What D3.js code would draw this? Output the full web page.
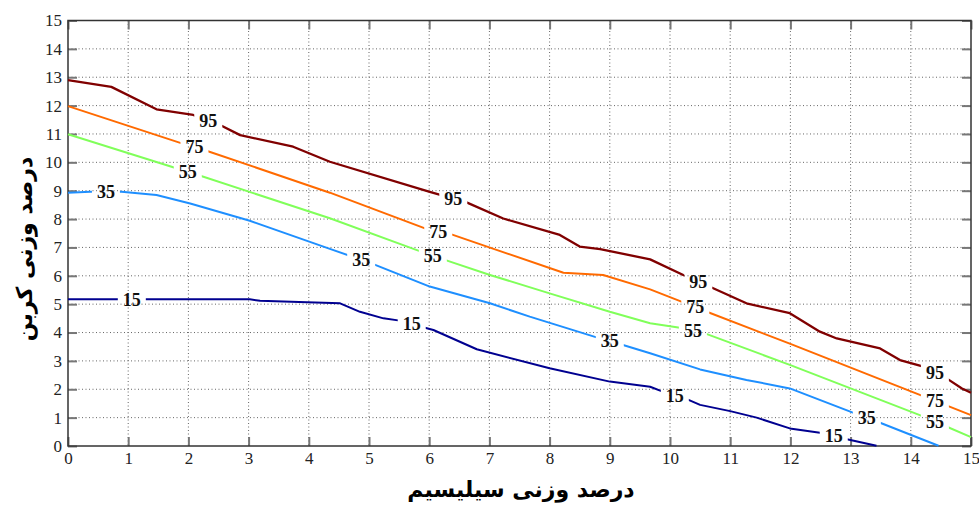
<!DOCTYPE html>
<html><head><meta charset="utf-8">
<script src="https://cdn.jsdelivr.net/npm/d3@7"></script>
<style>body{margin:0;background:#fff;}svg{display:block;}</style>
</head><body>
<svg id="chart" width="979" height="505"></svg>
<script>
// ---- data ----
const xTicks = [0,1,2,3,4,5,6,7,8,9,10,11,12,13,14,15];
const yTicks = [0,1,2,3,4,5,6,7,8,9,10,11,12,13,14,15];
const levels = [95, 75, 55, 35, 15];
const colors = ["#800000", "#ff6a00", "#80ff5a", "#1e8fff", "#000090"];
const line95 = [[0,12.9],[0.72,12.66],[1.47,11.87],[2.08,11.67],[2.55,11.29],[2.86,10.96],[3.74,10.55],[4.35,10.02],[6.01,8.96],[6.62,8.59],[7.23,8.02],[8.17,7.44],[8.5,7.03],[8.84,6.94],[9.67,6.58],[10.22,6.03],[10.69,5.59],[11.27,5.03],[11.99,4.68],[12.49,4.03],[12.77,3.79],[13.49,3.44],[13.82,3.03],[14.21,2.8],[14.62,2.35],[14.85,2.03],[15,1.88]];
const line75 = [[0,11.98],[1.89,10.67],[2.3,10.41],[4.35,8.93],[5.93,7.67],[6.37,7.46],[7.07,6.95],[8.23,6.11],[8.89,6.03],[9.67,5.52],[10.19,5.09],[10.58,4.76],[12,3.6],[14.15,1.8],[14.57,1.45],[15,1.09]];
const line55 = [[0,10.99],[1.8,9.79],[2.25,9.49],[4.35,8.03],[5.75,6.94],[6.26,6.56],[7.01,6.03],[8.0,5.38],[9.0,4.73],[9.67,4.33],[10.22,4.15],[10.58,3.97],[11.99,2.86],[14.15,1.09],[14.6,0.68],[15,0.31]];
const line35 = [[0,8.93],[0.37,8.96],[0.89,8.96],[1.47,8.85],[2.03,8.55],[3.02,7.94],[4.35,6.95],[5.04,6.44],[6.01,5.62],[7.01,5.03],[7.67,4.56],[8.78,3.83],[9.22,3.56],[9.67,3.27],[10.5,2.7],[11.27,2.33],[11.99,2.03],[13.07,1.15],[13.49,0.82],[14.46,0.01]];
const line15 = [[0,5.17],[1.36,5.17],[3.02,5.17],[3.19,5.12],[3.58,5.09],[3.97,5.07],[4.52,5.03],[4.85,4.73],[5.24,4.5],[5.51,4.42],[5.93,4.17],[6.07,4.09],[6.79,3.41],[8.0,2.74],[9.0,2.27],[9.67,2.09],[9.89,1.91],[10.25,1.68],[10.5,1.45],[11.0,1.23],[11.44,1.0],[11.99,0.62],[12.55,0.45],[12.94,0.24],[13.43,0.01]];
const lines = [line95, line75, line55, line35, line15];
// x positions (data units) of the inline level labels on each contour
const labelX95 = [2.33, 6.4, 10.47, 14.4];
const labelX75 = [2.1, 6.15, 10.42, 14.4];
const labelX55 = [1.99, 6.06, 10.38, 14.4];
const labelX35 = [0.63, 4.87, 9.0, 13.27];
const labelX15 = [1.06, 5.71, 10.08, 12.72];
const labelXs = [labelX95, labelX75, labelX55, labelX35, labelX15];
const xTitle = "درصد وزنی سیلیسیم";
const yTitle = "درصد وزنی کربن";

// ---- layout ----
const svg = d3.select("#chart");
const L = 68, R = 971, T = 20.5, B = 446;
const x = d3.scaleLinear().domain([0,15]).range([L,R]);
const y = d3.scaleLinear().domain([0,15]).range([B,T]);

// grid
const grid = svg.append("g");
grid.selectAll(".gx").data(xTicks.slice(1,-1)).enter().append("line")
  .attr("x1", d=>x(d)).attr("x2", d=>x(d)).attr("y1", T).attr("y2", B)
  .attr("stroke", "#666").attr("stroke-width", 1).attr("stroke-dasharray", "1,2.5");
grid.selectAll(".gy").data(yTicks.slice(1,-1)).enter().append("line")
  .attr("y1", d=>y(d)).attr("y2", d=>y(d)).attr("x1", L).attr("x2", R)
  .attr("stroke", "#666").attr("stroke-width", 1).attr("stroke-dasharray", "1,2.5");

// axes with inward ticks
const tickLen = 9;
const axB = svg.append("g").attr("transform", `translate(0,${B})`)
  .call(d3.axisBottom(x).tickValues(xTicks).tickSizeInner(-tickLen).tickSizeOuter(0).tickPadding(6));
const axL = svg.append("g").attr("transform", `translate(${L},0)`)
  .call(d3.axisLeft(y).tickValues(yTicks).tickSizeInner(-tickLen).tickSizeOuter(0).tickPadding(6));
const axT = svg.append("g").attr("transform", `translate(0,${T})`)
  .call(d3.axisTop(x).tickValues(xTicks).tickSizeInner(-tickLen).tickSizeOuter(0).tickFormat(""));
const axR = svg.append("g").attr("transform", `translate(${R},0)`)
  .call(d3.axisRight(y).tickValues(yTicks).tickSizeInner(-tickLen).tickSizeOuter(0).tickFormat(""));
[axB, axL, axT, axR].forEach(a => {
  a.selectAll(".domain").remove();
  a.selectAll(".tick line").attr("stroke", "#777").attr("stroke-width", 2);
  a.selectAll("text").attr("font-family", "Liberation Serif, serif").attr("font-size", 17).attr("fill", "#222");
});
// frame
svg.append("rect").attr("x", L).attr("y", T).attr("width", R-L).attr("height", B-T)
  .attr("fill", "none").attr("stroke", "#333").attr("stroke-width", 1.5);

// contours
const lineGen = d3.line().x(d=>x(d[0])).y(d=>y(d[1])).curve(d3.curveLinear);
function interpY(pts, xv) {
  for (let i = 0; i < pts.length-1; i++) {
    const a = pts[i], b = pts[i+1];
    if (xv >= a[0] && xv <= b[0]) {
      const t = (xv - a[0]) / (b[0] - a[0] || 1);
      return a[1] + t*(b[1]-a[1]);
    }
  }
  return pts[pts.length-1][1];
}
const defs = svg.append("defs");
const contG = svg.append("g");
const labG = svg.append("g");
levels.forEach((lev, i) => {
  const pts = lines[i];
  const mask = defs.append("mask").attr("id", "m"+i).attr("maskUnits", "userSpaceOnUse")
    .attr("x", 0).attr("y", 0).attr("width", 979).attr("height", 505);
  mask.append("rect").attr("x", 0).attr("y", 0).attr("width", 979).attr("height", 505).attr("fill", "#fff");
  labelXs[i].forEach(lx => {
    const px = x(lx), py = y(interpY(pts, lx));
    const t = labG.append("text").attr("x", px).attr("y", py).attr("dy", "0.35em")
      .attr("text-anchor", "middle").attr("font-family", "Liberation Serif, serif")
      .attr("font-weight", "bold").attr("font-size", 18).attr("fill", "#111").text(lev);
    const w = t.node().getComputedTextLength();
    mask.append("rect").attr("x", px - w/2 - 5).attr("y", py - 10).attr("width", w + 10).attr("height", 20).attr("fill", "#000");
  });
  contG.append("path").datum(pts).attr("d", lineGen)
    .attr("fill", "none").attr("stroke", colors[i]).attr("stroke-width", i === 0 ? 2.3 : 2)
    .attr("stroke-linejoin", "round").attr("mask", `url(#m${i})`);
});
contG.raise(); labG.raise();

// titles
svg.append("text").attr("x", 521).attr("y", 497).attr("text-anchor", "middle")
  .attr("font-family", "DejaVu Sans, sans-serif").attr("font-weight", "bold").attr("font-size", 22)
  .attr("fill", "#000").attr("direction", "rtl").attr("unicode-bidi", "plaintext").text(xTitle);
svg.append("text").attr("transform", "translate(32,249) rotate(-90)").attr("text-anchor", "middle")
  .attr("font-family", "DejaVu Sans, sans-serif").attr("font-weight", "bold").attr("font-size", 22)
  .attr("fill", "#000").attr("direction", "rtl").text(yTitle);
</script>
</body></html>
